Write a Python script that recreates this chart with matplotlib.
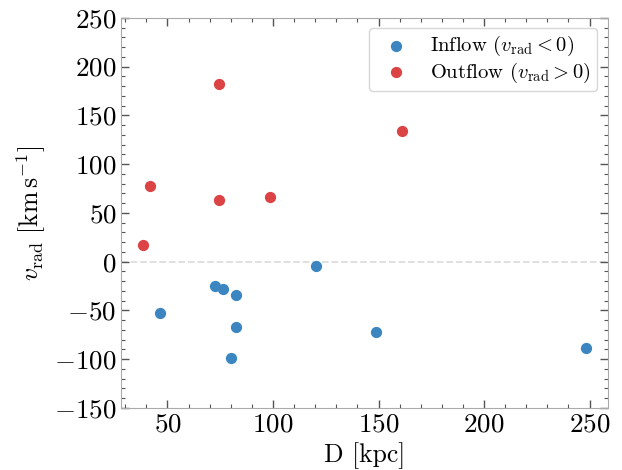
import matplotlib
matplotlib.use("Agg")
import matplotlib.pyplot as plt
from matplotlib.ticker import MultipleLocator

plt.rcParams['font.family'] = 'serif'
plt.rcParams['font.serif'] = ['cmr10']
plt.rcParams['mathtext.fontset'] = 'cm'
plt.rcParams['axes.formatter.use_mathtext'] = True

# inflow (v_rad < 0)
in_dist = [46.7, 72.3, 76.5, 82.7, 82.7, 80.3, 120.6, 148.6, 248.1]
in_vrad = [-52.5, -25, -28, -34, -67, -99, -4.5, -72, -89]

# outflow (v_rad > 0)
out_dist = [38.6, 41.5, 74.2, 74.2, 98.8, 160.9]
out_vrad = [17, 78, 182, 63, 66, 134]

fig, ax = plt.subplots(figsize=(6.22, 4.70), dpi=100)
fig.subplots_adjust(left=0.195, right=0.977, top=0.962, bottom=0.132)

ax.axhline(0, color='#dddddd', ls='--', lw=1.3, zorder=0)
ax.scatter(in_dist, in_vrad, s=50, c='#3b86c1', label=r'Inflow ($v_{\rm rad} < 0$)', zorder=3)
ax.scatter(out_dist, out_vrad, s=50, c='#dc4345', label=r'Outflow ($v_{\rm rad} > 0$)', zorder=3)

ax.set_ylim(-150, 250)
ax.set_xlabel('D [kpc]', fontsize=18.5)
ax.set_ylabel(r'$v_{\rm rad}\ [\rm km\,s^{-1}]$', fontsize=18.5)

ax.xaxis.set_major_locator(MultipleLocator(50))
ax.xaxis.set_minor_locator(MultipleLocator(10))
ax.yaxis.set_major_locator(MultipleLocator(50))
ax.yaxis.set_minor_locator(MultipleLocator(10))
ax.tick_params(which='both', direction='in', top=True, right=True, colors='#555555', labelcolor='black', labelsize=19.5)
ax.tick_params(which='major', length=6, width=1)
ax.tick_params(which='minor', length=3, width=0.8)
for sp in ax.spines.values():
    sp.set_color('#aaaaaa')

leg = ax.legend(loc='upper right', fontsize=14.8, frameon=True, handlelength=2.0,
                handletextpad=0.7, labelspacing=0.1, borderpad=0.3, borderaxespad=0.5)
leg.get_frame().set_edgecolor('#cccccc')

fig.savefig('out.png', dpi=100)
